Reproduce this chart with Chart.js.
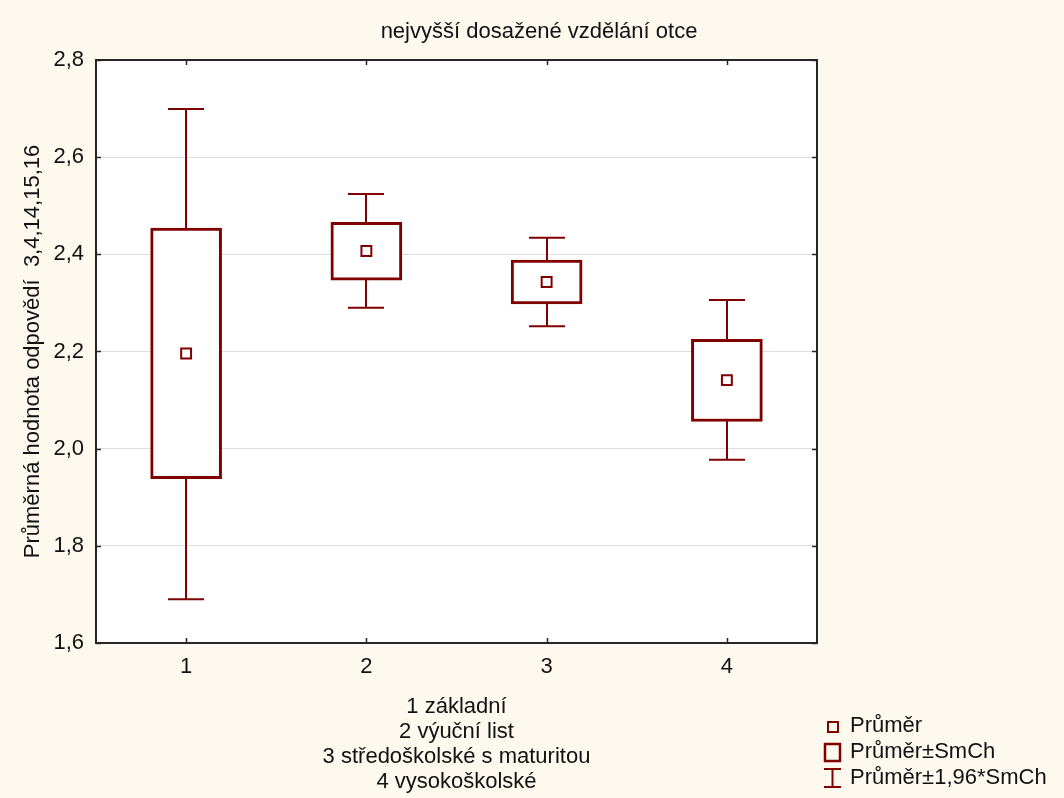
<!DOCTYPE html>
<html>
<head>
<meta charset="utf-8">
<script src="https://cdn.jsdelivr.net/npm/chart.js@4/dist/chart.umd.min.js"></script>
<style>
  body { margin: 0; background: #fdf9ee; }
  canvas { display: block; }
</style>
</head>
<body>
<canvas id="chart" width="1064" height="798"></canvas>
<script>
const categories = ["1", "2", "3", "4"];
const means = [2.196, 2.407, 2.343, 2.141];
const boxLow = [1.938, 2.347, 2.298, 2.056];
const boxHigh = [2.454, 2.466, 2.388, 2.225];
const ciLow = [1.690, 2.290, 2.252, 1.977];
const ciHigh = [2.699, 2.524, 2.434, 2.306];
const yTicks = [1.6, 1.8, 2.0, 2.2, 2.4, 2.6, 2.8];

const title = "nejvyšší dosažené vzdělání otce";
const yTitle = "Průměrná hodnota odpovědí  3,4,14,15,16";
const xNotes = ["1 základní", "2 výuční list", "3 středoškolské s maturitou", "4 vysokoškolské"];
const legendItems = ["Průměr", "Průměr±SmCh", "Průměr±1,96*SmCh"];

const MAROON = "#800000";
const FONT = "'Liberation Sans', Arial, sans-serif";

const background = {
  id: "background",
  beforeDraw(chart) {
    const { ctx, chartArea: a } = chart;
    ctx.save();
    ctx.fillStyle = "#fdf9ee";
    ctx.fillRect(0, 0, chart.width, chart.height);
    ctx.fillStyle = "#ffffff";
    ctx.fillRect(a.left, a.top, a.right - a.left, a.bottom - a.top);
    ctx.restore();
  }
};

const whiskers = {
  id: "whiskers",
  beforeDatasetsDraw(chart) {
    const { ctx, scales: { x, y } } = chart;
    ctx.save();
    ctx.strokeStyle = MAROON;
    ctx.lineWidth = 2;
    categories.forEach((c, i) => {
      const px = Math.round(x.getPixelForValue(i));
      const top = y.getPixelForValue(ciHigh[i]);
      const bot = y.getPixelForValue(ciLow[i]);
      ctx.beginPath();
      ctx.moveTo(px, top); ctx.lineTo(px, bot);
      ctx.moveTo(px - 18, top); ctx.lineTo(px + 18, top);
      ctx.moveTo(px - 18, bot); ctx.lineTo(px + 18, bot);
      ctx.stroke();
    });
    ctx.restore();
  }
};

const decorations = {
  id: "decorations",
  afterDraw(chart) {
    const { ctx, chartArea: a, scales: { x, y } } = chart;
    ctx.save();
    // frame
    ctx.strokeStyle = "#262626";
    ctx.lineWidth = 2;
    ctx.strokeRect(a.left, a.top, a.right - a.left, a.bottom - a.top);
    // inside ticks
    ctx.beginPath();
    y.ticks.forEach((t, k) => {
      const py = Math.round(y.getPixelForTick(k)) + 0.5;
      ctx.moveTo(a.left, py); ctx.lineTo(a.left + 5, py);
      ctx.moveTo(a.right - 5, py); ctx.lineTo(a.right, py);
    });
    x.ticks.forEach((t, k) => {
      const px = Math.round(x.getPixelForTick(k)) + 0.5;
      ctx.moveTo(px, a.top); ctx.lineTo(px, a.top + 5);
      ctx.moveTo(px, a.bottom - 5); ctx.lineTo(px, a.bottom);
    });
    ctx.lineWidth = 1.5;
    ctx.stroke();

    // texts
    ctx.fillStyle = "#111111";
    ctx.font = "22px " + FONT;
    ctx.textAlign = "center";
    ctx.textBaseline = "middle";
    ctx.fillText(title, 539, 32);
    const cx = (a.left + a.right) / 2;
    xNotes.forEach((t, i) => ctx.fillText(t, cx, 707 + i * 25));

    ctx.save();
    ctx.translate(33, (a.top + a.bottom) / 2);
    ctx.rotate(-Math.PI / 2);
    ctx.fillText(yTitle, 0, 0);
    ctx.restore();

    // legend
    ctx.textAlign = "left";
    legendItems.forEach((t, i) => ctx.fillText(t, 850, 726 + i * 26));
    ctx.strokeStyle = MAROON;
    ctx.lineWidth = 2;
    ctx.strokeRect(828, 722, 10, 10);
    ctx.lineWidth = 2.5;
    ctx.strokeRect(825, 744, 15, 17);
    ctx.lineWidth = 2;
    ctx.beginPath();
    ctx.moveTo(824, 769); ctx.lineTo(841, 769);
    ctx.moveTo(832.5, 769); ctx.lineTo(832.5, 787);
    ctx.moveTo(824, 787); ctx.lineTo(841, 787);
    ctx.stroke();
    ctx.restore();
  }
};

new Chart(document.getElementById("chart"), {
  data: {
    labels: categories,
    datasets: [
      {
        type: "line",
        label: "Průměr",
        data: means,
        showLine: false,
        pointStyle: "rect",
        pointRadius: 7,
        pointBorderWidth: 2,
        pointBorderColor: MAROON,
        pointBackgroundColor: "#ffffff",
        order: 1
      },
      {
        type: "bar",
        label: "Průměr±SmCh",
        data: categories.map((c, i) => [boxLow[i], boxHigh[i]]),
        backgroundColor: "#ffffff",
        borderColor: MAROON,
        borderWidth: 3,
        borderSkipped: false,
        barThickness: 71,
        order: 2
      }
    ]
  },
  options: {
    responsive: false,
    animation: false,
    events: [],
    layout: { padding: { left: 0, top: 60, right: 247, bottom: 0 } },
    plugins: { legend: { display: false }, tooltip: { enabled: false }, title: { display: false } },
    scales: {
      x: {
        type: "category",
        offset: true,
        grid: { display: false, drawTicks: false },
        border: { display: false },
        ticks: { color: "#111111", padding: 11, font: { family: FONT, size: 22 } },
        afterFit(scale) { scale.height = 155; }
      },
      y: {
        min: 1.6,
        max: 2.8,
        afterBuildTicks(scale) { scale.ticks = yTicks.map(v => ({ value: v })); },
        grid: { color: "#dddddd", lineWidth: 1, drawTicks: false },
        border: { display: false },
        ticks: {
          color: "#111111",
          padding: 12,
          font: { family: FONT, size: 22 },
          callback: v => v.toFixed(1).replace(".", ",")
        },
        afterFit(scale) { scale.width = 96; }
      }
    }
  },
  plugins: [background, whiskers, decorations]
});
</script>
</body>
</html>
